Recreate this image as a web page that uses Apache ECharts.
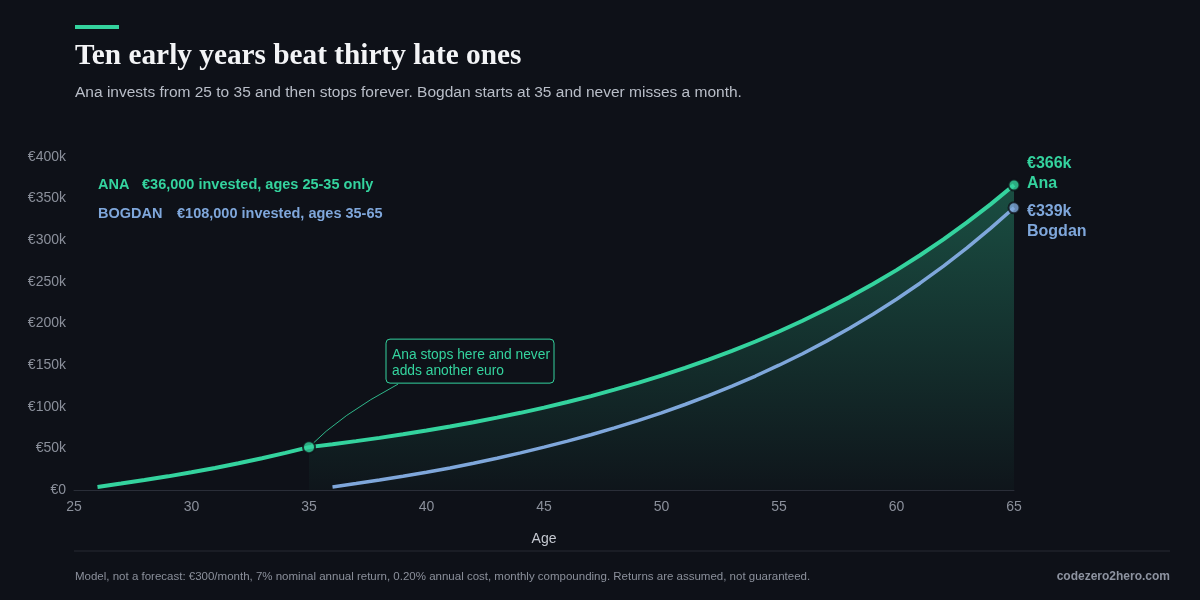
<!DOCTYPE html>
<html>
<head>
<meta charset="utf-8">
<script src="https://cdn.jsdelivr.net/npm/echarts@6/dist/echarts.min.js"></script>
<style>
  html, body { margin: 0; background: #0e1118; }
  #chart { width: 1200px; height: 600px; }
</style>
</head>
<body>
<div id="chart"></div>
<script>
// values in thousands of euros
const anaAges = [26, 27, 28, 29, 30, 31, 32, 33, 34, 35, 36, 37, 38, 39, 40, 41, 42, 43, 44, 45,
  46, 47, 48, 49, 50, 51, 52, 53, 54, 55, 56, 57, 58, 59, 60, 61, 62, 63, 64, 65];
const anaValues = [3.7, 7.7, 11.9, 16.4, 21.3, 26.5, 32.1, 38.1, 44.6, 51.5, 55.0, 58.7, 62.6, 66.9, 71.4,
  76.2, 81.4, 86.9, 92.7, 99.0, 105.7, 112.8, 120.5, 128.6, 137.3, 146.6, 156.5, 167.1, 178.4, 190.4,
  203.3, 217.1, 231.7, 247.4, 264.1, 282.0, 301.0, 321.4, 343.1, 366.3];
const bogdanAges = [36, 37, 38, 39, 40, 41, 42, 43, 44, 45, 46, 47, 48, 49, 50, 51, 52, 53, 54, 55,
  56, 57, 58, 59, 60, 61, 62, 63, 64, 65];
const bogdanValues = [3.7, 7.7, 11.9, 16.4, 21.3, 26.5, 32.1, 38.1, 44.6, 51.5, 58.7, 66.4, 74.6, 83.4, 92.7,
  102.7, 113.4, 124.8, 136.9, 149.9, 163.7, 178.5, 194.3, 211.2, 229.2, 248.4, 268.9, 290.8, 314.3, 339.0];
const stopAge = 35;
const xTicks = { min: 25, max: 65, step: 5 };
const yTicks = { min: 0, max: 400, step: 50 };

const GREEN = "#34d39e";
const BLUE = "#7fa7db";
const BG = "#0e1118";
const SANS = '"Liberation Sans", Arial, sans-serif';

const anaData = anaAges.map((a, i) => [a, anaValues[i]]);
const bogdanData = bogdanAges.map((a, i) => [a, bogdanValues[i]]);
const stopIdx = anaAges.indexOf(stopAge);
const anaAfter = anaData.slice(stopIdx);

const fmtK = (v) => "€" + Math.round(v) + "k";

const chart = echarts.init(document.getElementById("chart"));
chart.setOption({
  backgroundColor: BG,
  animation: false,
  grid: { left: 74, right: 186, top: 157, bottom: 110 },
  xAxis: {
    type: "value",
    min: xTicks.min, max: xTicks.max, interval: xTicks.step,
    name: "Age", nameLocation: "middle", nameGap: 42,
    nameTextStyle: { color: "#c4c8d0", fontSize: 14, fontFamily: SANS },
    axisLine: { show: true, lineStyle: { color: "#2a2e38", width: 1 } },
    axisTick: { show: false },
    splitLine: { show: false },
    axisLabel: { color: "#8b909b", fontSize: 14, margin: 10, fontFamily: SANS },
  },
  yAxis: {
    type: "value",
    min: yTicks.min, max: yTicks.max, interval: yTicks.step,
    axisLine: { show: false },
    axisTick: { show: false },
    splitLine: { show: false },
    axisLabel: {
      color: "#8b909b", fontSize: 14, margin: 8, fontFamily: SANS,
      formatter: (v) => (v === 0 ? "€0" : "€" + v + "k"),
    },
  },
  series: [
    {
      name: "Ana area",
      type: "line",
      data: anaAfter,
      symbol: "none",
      lineStyle: { width: 0 },
      z: 1,
      areaStyle: {
        color: new echarts.graphic.LinearGradient(0, 0, 0, 1, [
          { offset: 0, color: "rgba(52,211,158,0.45)" },
          { offset: 1, color: "rgba(52,211,158,0.03)" },
        ]),
      },
      silent: true,
    },
    {
      name: "Bogdan",
      type: "line",
      data: bogdanData,
      symbol: "none",
      lineStyle: { color: BLUE, width: 3.5 },
      z: 3,
      endLabel: {
        show: true,
        distance: 13,
        offset: [0, 14],
        formatter: (p) => "{a|" + fmtK(p.value[1]) + "}\n{a|Bogdan}",
        rich: { a: { color: BLUE, fontSize: 16, fontWeight: "bold", fontFamily: SANS, lineHeight: 20 } },
      },
    },
    {
      name: "Ana",
      type: "line",
      data: anaData,
      symbol: "none",
      lineStyle: { color: GREEN, width: 4 },
      z: 4,
      endLabel: {
        show: true,
        distance: 13,
        offset: [0, -11],
        formatter: (p) => "{a|" + fmtK(p.value[1]) + "}\n{a|Ana}",
        rich: { a: { color: GREEN, fontSize: 16, fontWeight: "bold", fontFamily: SANS, lineHeight: 20 } },
      },
    },
    {
      name: "dots",
      type: "scatter",
      z: 5,
      data: [
        { value: anaData[stopIdx], symbolSize: 12, itemStyle: { color: GREEN } },
        { value: anaData[anaData.length - 1], symbolSize: 11, itemStyle: { color: GREEN } },
        { value: bogdanData[bogdanData.length - 1], symbolSize: 11, itemStyle: { color: BLUE } },
      ],
      itemStyle: { borderColor: BG, borderWidth: 2 },
      silent: true,
    },
  ],
});

const p = chart.convertToPixel({ gridIndex: 0 }, anaData[stopIdx]);
const bx = p[0] + 77, by = p[1] - 108;

chart.setOption({
  graphic: [
    { type: "rect", left: 75, top: 25, shape: { width: 44, height: 4 }, style: { fill: GREEN } },
    {
      type: "text", left: 75, top: 42,
      style: { text: "Ten early years beat thirty late ones", fill: "#f3f4f6", font: 'bold 29.3px "Liberation Serif", serif' },
    },
    {
      type: "text", left: 75, top: 85,
      style: { text: "Ana invests from 25 to 35 and then stops forever. Bogdan starts at 35 and never misses a month.", fill: "#b9bec8", font: "15.5px " + SANS },
    },
    { type: "text", left: 98, top: 177, style: { text: "ANA", fill: GREEN, font: "bold 14.5px " + SANS } },
    { type: "text", left: 142, top: 177, style: { text: "€36,000 invested, ages 25-35 only", fill: GREEN, font: "bold 14.5px " + SANS } },
    { type: "text", left: 98, top: 206, style: { text: "BOGDAN", fill: BLUE, font: "bold 14.5px " + SANS } },
    { type: "text", left: 177, top: 206, style: { text: "€108,000 invested, ages 35-65", fill: BLUE, font: "bold 14.5px " + SANS } },
    {
      type: "bezierCurve",
      shape: { x1: p[0], y1: p[1], cpx1: p[0] + 31, cpy1: p[1] - 32, x2: p[0] + 89, y2: p[1] - 63 },
      style: { stroke: GREEN, lineWidth: 1, fill: null, opacity: 0.85 },
    },
    {
      type: "rect",
      shape: { x: bx, y: by, width: 168, height: 44, r: 4 },
      style: { fill: BG, stroke: GREEN, lineWidth: 1 },
    },
    {
      type: "text", x: bx + 6, y: by + 8,
      style: { text: "Ana stops here and never\nadds another euro", fill: GREEN, font: "13.8px " + SANS, lineHeight: 16 },
    },
    {
      type: "line",
      shape: { x1: 74, y1: 551, x2: 1170, y2: 551 },
      style: { stroke: "#262a33", lineWidth: 1 },
    },
    {
      type: "text", left: 75, top: 571,
      style: { text: "Model, not a forecast: €300/month, 7% nominal annual return, 0.20% annual cost, monthly compounding. Returns are assumed, not guaranteed.", fill: "#8b909b", font: "11.5px " + SANS },
    },
    {
      type: "text", right: 30, top: 571,
      style: { text: "codezero2hero.com", fill: "#8d93a0", font: "bold 12px " + SANS },
    },
  ],
});
</script>
</body>
</html>
